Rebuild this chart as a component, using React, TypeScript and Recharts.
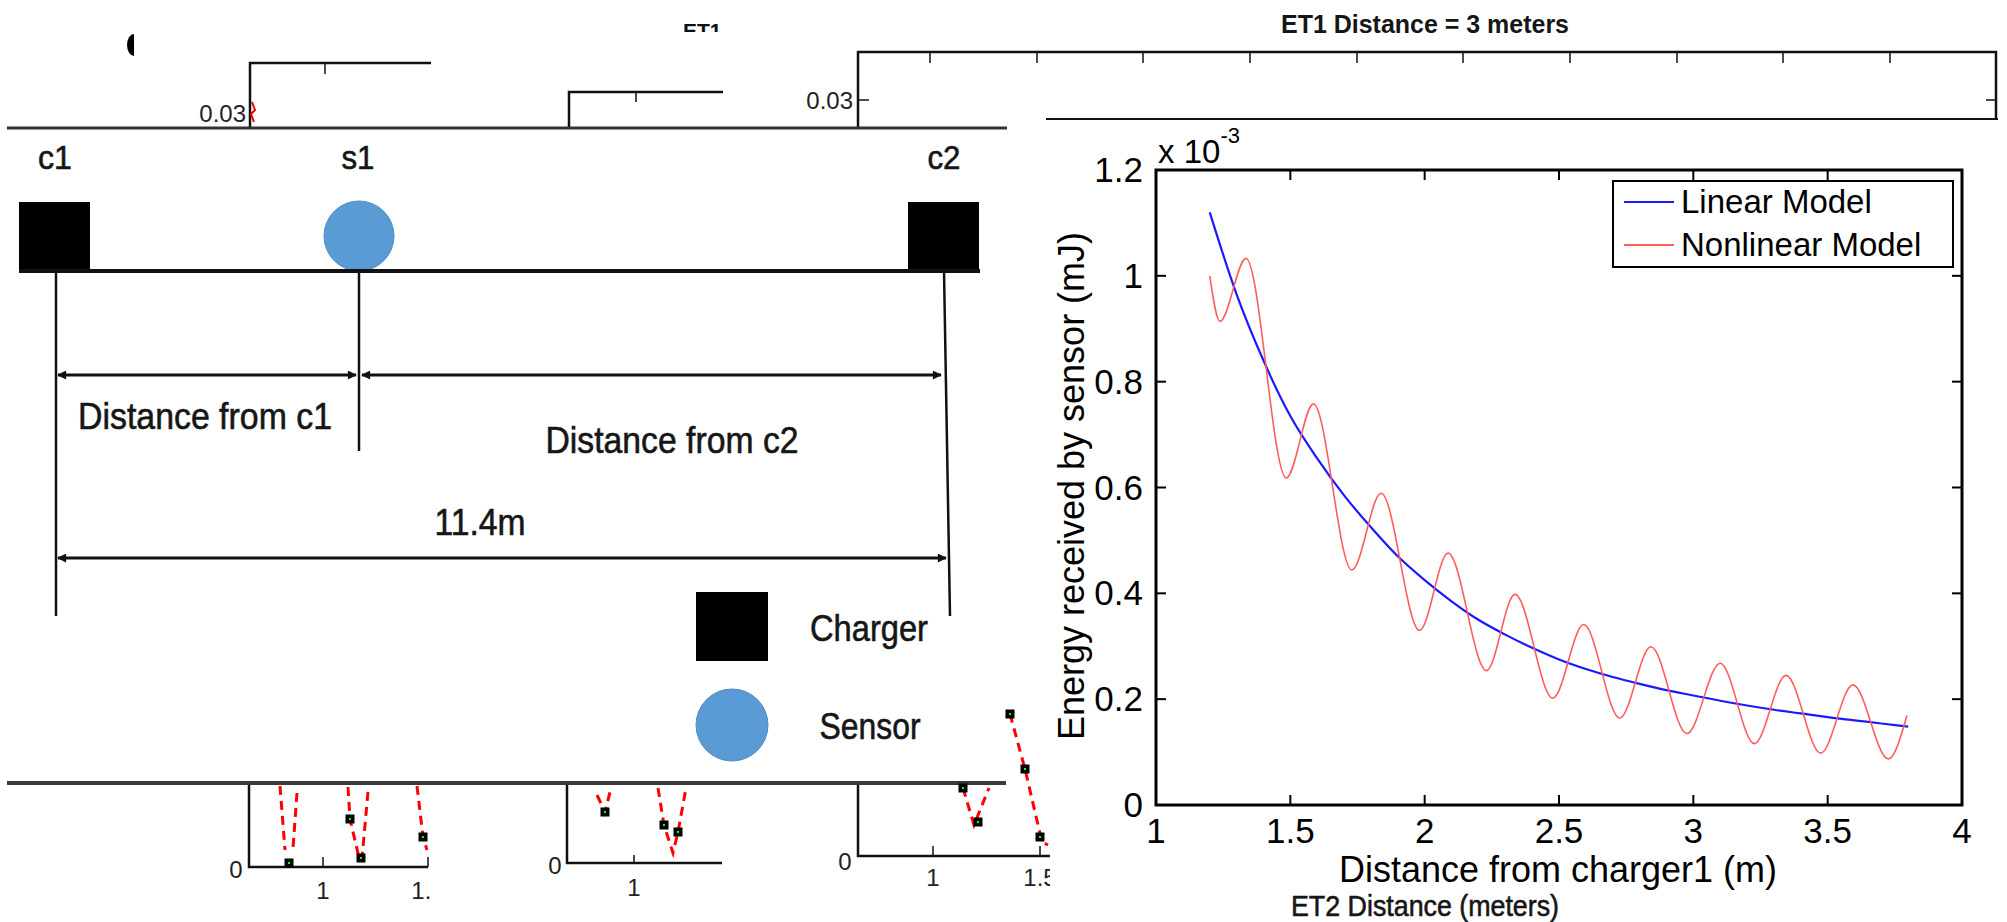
import React from "react";
import { LineChart, Line, XAxis, YAxis, Legend } from "recharts";

const xTicks = [1, 1.5, 2, 2.5, 3, 3.5, 4];
const xTickLabels = ["1", "1.5", "2", "2.5", "3", "3.5", "4"];
const yTicks = [0, 0.2, 0.4, 0.6, 0.8, 1, 1.2];
const yTickLabels = ["0", "0.2", "0.4", "0.6", "0.8", "1", "1.2"];

// distance from charger1 (m) / energy in units of 1e-3 mJ
const linearDistance = [
  1.2, 1.3, 1.4, 1.5, 1.6, 1.7, 1.8, 1.9, 2.0, 2.1, 2.2, 2.3, 2.4, 2.5,
  2.6, 2.7, 2.8, 2.9, 3.0, 3.1, 3.2, 3.3, 3.4, 3.5, 3.6, 3.7, 3.8,
];
const linearEnergy = [
  1.12, 0.965, 0.84, 0.735, 0.655, 0.585, 0.525, 0.47, 0.425, 0.385, 0.35,
  0.322, 0.297, 0.275, 0.257, 0.242, 0.229, 0.217, 0.207, 0.197, 0.188,
  0.18, 0.173, 0.166, 0.16, 0.154, 0.148,
];

// nonlinear model: start, then alternating troughs / peaks, then end
const nonlinearDistance = [
  1.2, 1.238, 1.335, 1.485, 1.586, 1.729, 1.838, 1.981, 2.087, 2.23, 2.336,
  2.477, 2.592, 2.726, 2.842, 2.976, 3.1, 3.227, 3.345, 3.474, 3.594, 3.726,
  3.795,
];
const nonlinearEnergy = [
  1.0, 0.914, 1.033, 0.618, 0.758, 0.444, 0.589, 0.33, 0.476, 0.254, 0.398,
  0.202, 0.341, 0.164, 0.299, 0.135, 0.268, 0.116, 0.245, 0.098, 0.227,
  0.087, 0.169,
];

const linearData = linearDistance.map((x, i) => ({ x, e: linearEnergy[i] }));
const nonlinearData = nonlinearDistance.map((x, i) => ({ x, e: nonlinearEnergy[i] }));

const FONT = "'Liberation Sans', Arial, Helvetica, sans-serif";
const NARROW = "'Liberation Sans Narrow', 'Arial Narrow', 'Liberation Sans', sans-serif";

// plot box inside the chart svg
const PLOT_L = 196;
const PLOT_R = 1002;
const PLOT_T = 60;
const PLOT_B = 695;
const TICK = 10;

const BottomTick = (props: any) => {
  const { x, payload } = props;
  const i = xTicks.indexOf(payload.value);
  return (
    <g>
      {i === 0 && (
        <rect
          x={PLOT_L}
          y={PLOT_T}
          width={PLOT_R - PLOT_L}
          height={PLOT_B - PLOT_T}
          fill="none"
          stroke="#000"
          strokeWidth={3}
        />
      )}
      <line x1={x} x2={x} y1={PLOT_B} y2={PLOT_B - TICK} stroke="#000" strokeWidth={2} />
      <line x1={x} x2={x} y1={PLOT_T} y2={PLOT_T + TICK} stroke="#000" strokeWidth={2} />
      <text x={x} y={PLOT_B + 38} textAnchor="middle" fontSize={35} fontFamily={FONT} fill="#000">
        {xTickLabels[i]}
      </text>
    </g>
  );
};

const LeftTick = (props: any) => {
  const { y, payload } = props;
  const i = yTicks.indexOf(payload.value);
  return (
    <g>
      <line x1={PLOT_L} x2={PLOT_L + TICK} y1={y} y2={y} stroke="#000" strokeWidth={2} />
      <line x1={PLOT_R} x2={PLOT_R - TICK} y1={y} y2={y} stroke="#000" strokeWidth={2} />
      <text x={PLOT_L - 13} y={y + 12} textAnchor="end" fontSize={35} fontFamily={FONT} fill="#000">
        {yTickLabels[i]}
      </text>
    </g>
  );
};

const xLabel = () => (
  <text x={598} y={772} textAnchor="middle" fontSize={36} fontFamily={FONT} fill="#000">
    Distance from charger1 (m)
  </text>
);

const yLabel = () => (
  <g>
    <text
      x={111}
      y={389}
      transform="rotate(-90 111 376)"
      textAnchor="middle"
      fontSize={36}
      fontFamily={FONT}
      fill="#000"
    >
      Energy received by sensor (mJ)
    </text>
    <text x={198} y={53} fontSize={33} fontFamily={FONT} fill="#000">
      x 10
      <tspan dy={-20} fontSize={22}>
        -3
      </tspan>
    </text>
  </g>
);

const LegendBox = (props: any) => {
  const items = props.payload || [];
  return (
    <div
      style={{
        width: 342,
        height: 88,
        border: "2px solid #000",
        boxSizing: "border-box",
        background: "#fff",
        position: "relative",
      }}
    >
      {items.map((it: any, i: number) => (
        <div
          key={i}
          style={{
            position: "absolute",
            left: 0,
            top: i === 0 ? 0 : 43,
            height: 40,
            display: "flex",
            alignItems: "center",
            whiteSpace: "nowrap",
          }}
        >
          <span
            style={{
              display: "inline-block",
              width: 50,
              marginLeft: 10,
              borderTop: `2px solid ${it.color}`,
            }}
          />
          <span style={{ marginLeft: 7, fontSize: 33, fontFamily: FONT, color: "#000", lineHeight: "40px" }}>
            {it.value}
          </span>
        </div>
      ))}
    </div>
  );
};

const NT = ({ x, y, w, size = 37, children, anchor = "middle", weight = "normal" }: any) => (
  <text
    x={x}
    y={y}
    textAnchor={anchor}
    textLength={w}
    lengthAdjust="spacingAndGlyphs"
    fontSize={size}
    fontWeight={weight}
    fontFamily={NARROW}
    fill="#161616"
    stroke="#161616"
    strokeWidth={weight === "bold" ? 0 : 0.6}
  >
    {children}
  </text>
);

const AT = ({ x, y, children, anchor = "middle", size = 24 }: any) => (
  <text x={x} y={y} textAnchor={anchor} fontSize={size} fontFamily={FONT} fill="#222">
    {children}
  </text>
);

const markerPts = [
  [289, 863], [350, 819], [361, 858], [423, 837],
  [605, 812], [664, 825], [678, 832],
  [963, 788], [978, 822], [1010, 714], [1025, 769], [1040, 837],
];

const topTicks = [930, 1037, 1143, 1250, 1357, 1463, 1570, 1677, 1783, 1890];

function Backdrop() {
  const ln = { stroke: "#111", fill: "none" };
  return (
    <svg width={2007} height={922} style={{ position: "absolute", left: 0, top: 0 }}>
      <defs>
        <marker
          id="ah"
          viewBox="0 0 10 10"
          refX="9"
          refY="5"
          markerWidth="3.6"
          markerHeight="3"
          orient="auto-start-reverse"
        >
          <path d="M0 0 L10 5 L0 10 z" fill="#111" />
        </marker>
        <clipPath id="clipEt1">
          <rect x={600} y={0} width={123} height={32} />
        </clipPath>
        <clipPath id="clipB1">
          <rect x={250} y={785} width={181} height={137} />
        </clipPath>
        <clipPath id="clipB3">
          <rect x={850} y={700} width={200} height={222} />
        </clipPath>
      </defs>

      {/* fragments of other plots, top */}
      <path d="M134 34 A7 11 0 0 0 134 56 Z" fill="#000" />
      <text x={683} y={38} fontSize={21} fontWeight="bold" fontFamily={FONT} fill="#111" clipPath="url(#clipEt1)">
        ET1
      </text>
      <path d="M250 128 V63 H431" {...ln} strokeWidth={2.5} />
      <path d="M325 63 V74" {...ln} strokeWidth={1.5} />
      <AT x={246} y={122} anchor="end">0.03</AT>
      <path d="M252 102 L255 110 L251 114 L254 122" stroke="#e00" strokeWidth={2} fill="none" />
      <path d="M569 128 V92 H723" {...ln} strokeWidth={2.5} />
      <path d="M636 92 V102" {...ln} strokeWidth={1.5} />
      <path d="M858 128 V52 H1996 V119" {...ln} strokeWidth={2.5} />
      {topTicks.map((t) => (
        <path key={t} d={`M${t} 52 V63`} {...ln} strokeWidth={1.5} />
      ))}
      <path d="M858 100 H869 M1996 100 H1986" {...ln} strokeWidth={1.5} />
      <AT x={853} y={109} anchor="end">0.03</AT>
      <NT x={1425} y={33} w={288} size={25} weight="bold">
        ET1 Distance = 3 meters
      </NT>
      <path d="M1046 119 H1998" {...ln} strokeWidth={2} />
      <path d="M7 128 H1007" stroke="#333" strokeWidth={3} />

      {/* charger / sensor layout diagram */}
      <NT x={55} y={169} w={34} size={33}>c1</NT>
      <NT x={358} y={169} w={33} size={33}>s1</NT>
      <NT x={944} y={169} w={33} size={33}>c2</NT>
      <rect x={19} y={202} width={71} height={69} fill="#000" />
      <rect x={908} y={202} width={71} height={69} fill="#000" />
      <ellipse cx={359} cy={236} rx={35} ry={35} fill="#5b9bd5" stroke="#4f8cc4" strokeWidth={1} />
      <path d="M19 271 H980" stroke="#111" strokeWidth={4} />
      <path d="M56 271 V616" {...ln} strokeWidth={2.5} />
      <path d="M359 271 V451" {...ln} strokeWidth={2.5} />
      <path d="M944 271 L950 616" {...ln} strokeWidth={2.5} />
      <path d="M58 375 H356" {...ln} strokeWidth={3} markerStart="url(#ah)" markerEnd="url(#ah)" />
      <path d="M362 375 H941" {...ln} strokeWidth={3} markerStart="url(#ah)" markerEnd="url(#ah)" />
      <path d="M58 558 H946" {...ln} strokeWidth={3} markerStart="url(#ah)" markerEnd="url(#ah)" />
      <NT x={205} y={429} w={254}>Distance from c1</NT>
      <NT x={672} y={453} w={253}>Distance from c2</NT>
      <NT x={480} y={535} w={91}>11.4m</NT>
      <rect x={696} y={592} width={72} height={69} fill="#000" />
      <NT x={869} y={641} w={118}>Charger</NT>
      <ellipse cx={732} cy={725} rx={36} ry={36} fill="#5b9bd5" stroke="#4f8cc4" strokeWidth={1} />
      <NT x={870} y={739} w={101}>Sensor</NT>

      {/* fragments of other plots, bottom */}
      <path d="M7 783 H1006" stroke="#3a3a3a" strokeWidth={4} />
      <path d="M249 785 V867 H428" {...ln} strokeWidth={2.5} />
      <path d="M323 867 V857 M428 867 V857" {...ln} strokeWidth={1.5} />
      <AT x={236} y={878}>0</AT>
      <AT x={323} y={899}>1</AT>
      <g clipPath="url(#clipB1)">
        <AT x={428} y={899}>1.5</AT>
      </g>
      <path d="M567 785 V863 H722" {...ln} strokeWidth={2.5} />
      <path d="M634 863 V855" {...ln} strokeWidth={1.5} />
      <AT x={555} y={874}>0</AT>
      <AT x={634} y={896}>1</AT>
      <path d="M858 785 V856 H1050" {...ln} strokeWidth={2.5} />
      <path d="M933 856 V846 M1040 856 V846" {...ln} strokeWidth={1.5} />
      <AT x={845} y={870}>0</AT>
      <AT x={933} y={886}>1</AT>
      <g clipPath="url(#clipB3)">
        <AT x={1040} y={886}>1.5</AT>
      </g>
      <g stroke="#f00" strokeWidth={3} strokeDasharray="9 6" fill="none">
        <path d="M280 786 L285 850" />
        <path d="M297 793 L293 848" />
        <path d="M348 787 L350 819 L360 862" />
        <path d="M368 792 L362 858" />
        <path d="M417 786 L423 837 L427 850" />
        <path d="M597 795 L605 812 L611 788" />
        <path d="M658 788 L664 825 L673 853 L678 832 L686 788" />
        <path d="M963 788 L974 825 L989 788" />
        <path d="M1010 714 L1025 769 L1042 842 L1048 845" />
      </g>
      {markerPts.map(([mx, my], i) => (
        <g key={i}>
          <rect x={mx - 4.5} y={my - 4.5} width={9} height={9} fill="#000" />
          <rect x={mx - 1} y={my - 1} width={2} height={2} fill="#1f1" />
        </g>
      ))}

      <NT x={1425} y={916} w={268} size={30}>
        ET2 Distance (meters)
      </NT>
    </svg>
  );
}

export default function App() {
  return (
    <div
      style={{
        position: "absolute",
        left: 0,
        top: 0,
        width: 2007,
        height: 922,
        background: "#fff",
        overflow: "hidden",
      }}
    >
      <Backdrop />
      <div style={{ position: "absolute", left: 960, top: 110 }}>
        <LineChart width={1047} height={812} margin={{ top: 60, right: 45, left: 76, bottom: 17 }}>
          <XAxis
            dataKey="x"
            type="number"
            domain={[1, 4]}
            ticks={xTicks}
            interval={0}
            height={100}
            tick={BottomTick}
            tickLine={false}
            axisLine={false}
            label={xLabel}
            allowDataOverflow
          />
          <YAxis
            type="number"
            domain={[0, 1.2]}
            ticks={yTicks}
            interval={0}
            width={120}
            tick={LeftTick}
            tickLine={false}
            axisLine={false}
            label={yLabel}
            allowDataOverflow
          />
          <Line
            data={linearData}
            dataKey="e"
            name="Linear Model"
            type="monotone"
            stroke="#1a1aff"
            strokeWidth={2.2}
            dot={false}
            activeDot={false}
            isAnimationActive={false}
          />
          <Line
            data={nonlinearData}
            dataKey="e"
            name="Nonlinear Model"
            type="monotone"
            stroke="#ff5c5c"
            strokeWidth={1.6}
            dot={false}
            activeDot={false}
            isAnimationActive={false}
          />
          <Legend
            layout="vertical"
            align="center"
            verticalAlign="middle"
            content={LegendBox}
            wrapperStyle={{ position: "absolute", left: 652, top: 70, width: 342, height: 88 }}
          />
        </LineChart>
      </div>
    </div>
  );
}
